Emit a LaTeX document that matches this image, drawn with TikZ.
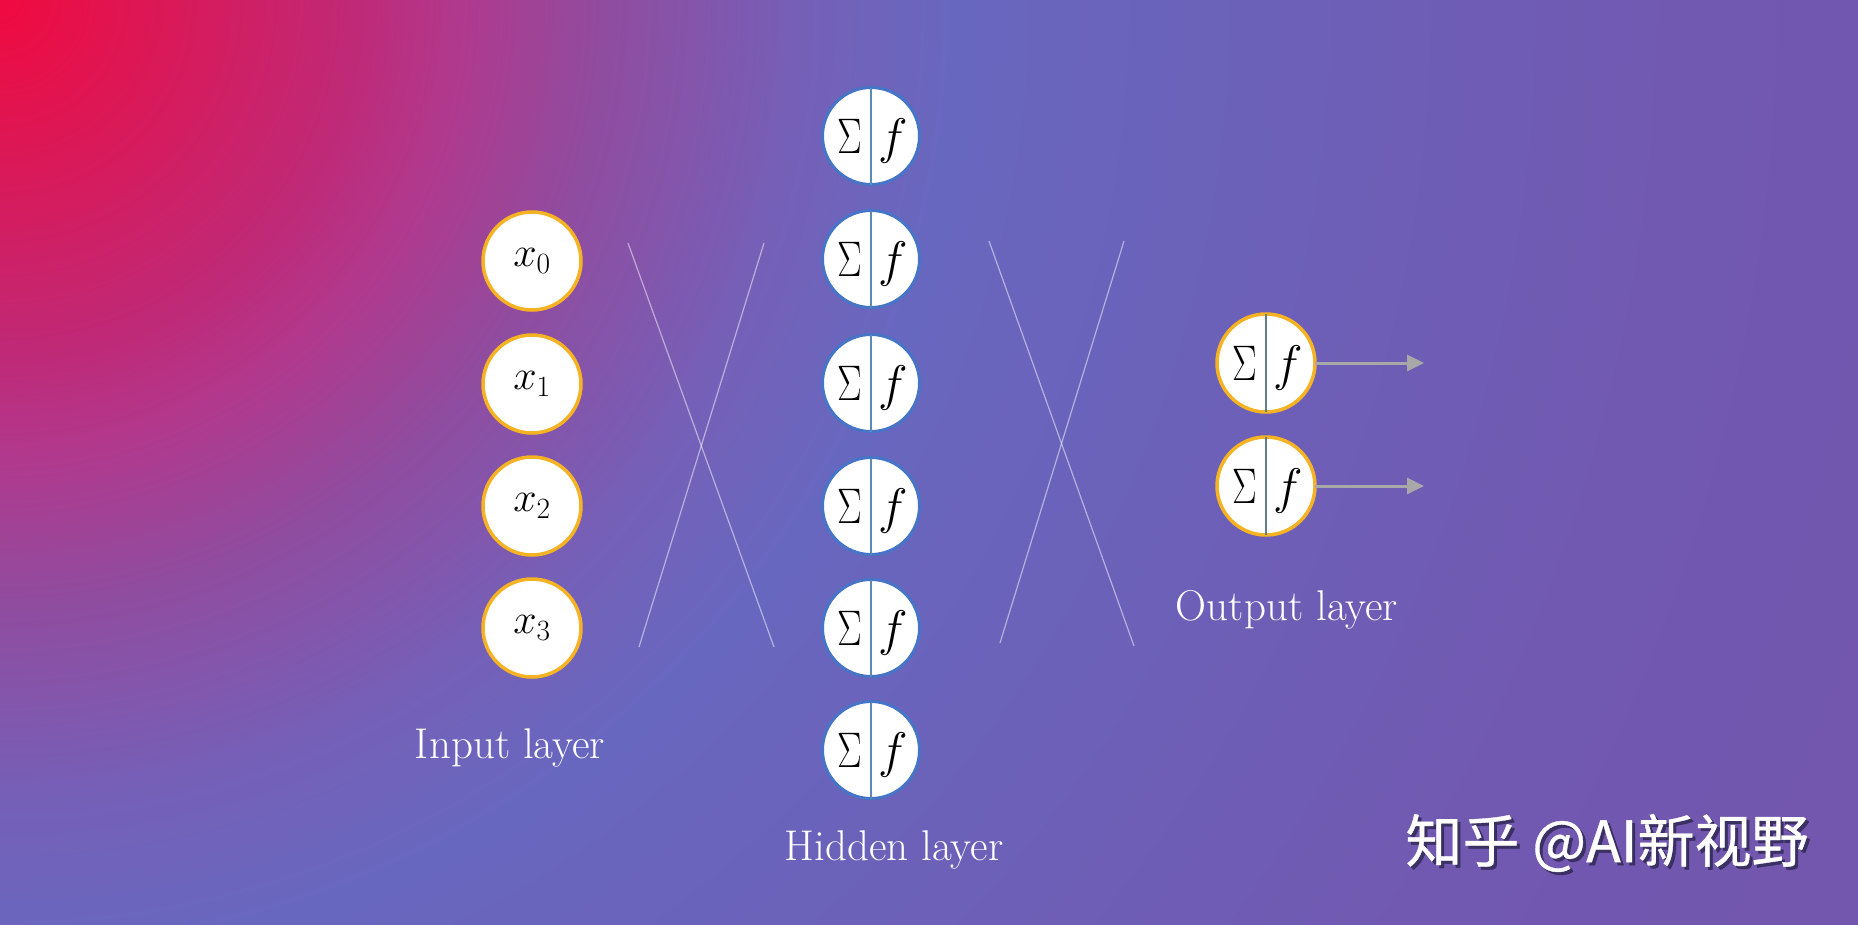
\RequirePackage{fix-cm}
\documentclass[tikz,border=0pt]{standalone}
\usepackage{fontspec}
\usepackage{graphicx}
\newfontfamily\cjk[FakeBold=0.6]{Noto Sans CJK SC}
\usetikzlibrary{arrows.meta}
\definecolor{bga}{HTML}{F00A3F}
\definecolor{bgb}{HTML}{D81A5A}
\definecolor{bgc}{HTML}{BE2A78}
\definecolor{bgd}{HTML}{B2388C}
\definecolor{bge}{HTML}{904C9F}
\definecolor{bgf}{HTML}{7560B8}
\definecolor{bgg}{HTML}{6867BF}
\definecolor{bgh}{HTML}{6B62BA}
\definecolor{bgi}{HTML}{6F5CB4}
\definecolor{bgj}{HTML}{7257B0}
\definecolor{bgk}{HTML}{7357AE}
\definecolor{goldc}{HTML}{F5B223}
\definecolor{bluec}{HTML}{4675C8}
\definecolor{divc}{HTML}{5A8AB5}
\definecolor{divo}{HTML}{5F7F8A}
\definecolor{arrowc}{HTML}{A8A8A8}
\definecolor{shadowc}{HTML}{2E2750}
\pgfdeclareradialshading{bgshade}{\pgfpoint{0bp}{0bp}}{color(0bp)=(bga); color(180bp)=(bgb); color(360bp)=(bgc); color(450bp)=(bgd); color(600bp)=(bge); color(800bp)=(bgf); color(950bp)=(bgg); color(1200bp)=(bgh); color(1500bp)=(bgi); color(1800bp)=(bgj); color(2100bp)=(bgk)}
\newcommand{\nsig}{\scalebox{0.74}[1]{$\Sigma$}}
\begin{document}
\begin{tikzpicture}[x=1pt,y=-1pt,
  innode/.style={circle, fill=white, draw=goldc, line width=3.5pt, minimum size=98pt, inner sep=0pt, outer sep=0pt, font=\fontsize{42}{42}\selectfont},
  hidnode/.style={circle, fill=white, draw=bluec, line width=3pt, minimum size=97pt, inner sep=0pt, outer sep=0pt},
  outnode/.style={innode},
  hdiv/.style={line width=1.2pt, draw=divc},
  odiv/.style={line width=1.2pt, draw=divo},
  sym/.style={inner sep=0pt, anchor=base, font=\fontsize{50}{50}\selectfont},
  lab/.style={text=white, font=\fontsize{43}{45}\selectfont, inner sep=0pt},
  xline/.style={draw=white, draw opacity=0.5, line width=1.2pt},
  outarrow/.style={draw=arrowc, line width=3pt, -{Triangle[length=17pt,width=16pt]}},
  wmark/.style={inner sep=0pt, font=\cjk\fontsize{57}{57}\selectfont}
]
\useasboundingbox (0,0) rectangle (1858,924);
\begin{scope}
  \clip (0,0) rectangle (1858,924);
  \pgfuseshading{bgshade}
\end{scope}

% crossing lines
\coordinate (l1a) at (628,243); \coordinate (l1b) at (774,647);
\coordinate (l2a) at (764,243); \coordinate (l2b) at (639,647);
\coordinate (l3a) at (989,241); \coordinate (l3b) at (1134,646);
\coordinate (l4a) at (1124,241); \coordinate (l4b) at (1000,643);
\draw[xline] (l1a) -- (l1b);
\draw[xline] (l2a) -- (l2b);
\draw[xline] (l3a) -- (l3b);
\draw[xline] (l4a) -- (l4b);

% input layer
\node[innode] (i0) at (532,261) {$x_0$};
\node[innode] (i1) at (532,384) {$x_1$};
\node[innode] (i2) at (532,506) {$x_2$};
\node[innode] (i3) at (532,628) {$x_3$};

% hidden layer
\foreach \k/\yy in {1/136,2/259,3/383,4/506,5/628,6/750}{
  \node[hidnode] (h\k) at (871,\yy) {};
  \draw[hdiv] (h\k.north) -- (h\k.south);
  \node[sym] (hs\k) at (850,\yy+17) {\nsig};
  \node[sym] (hf\k) at (893,\yy+17) {$f$};
}

% output layer
\foreach \k/\yy in {1/363,2/486}{
  \node[outnode] (o\k) at (1266,\yy) {};
  \draw[odiv] (o\k.north) -- (o\k.south);
  \node[sym] (os\k) at (1245,\yy+17) {\nsig};
  \node[sym] (of\k) at (1288,\yy+17) {$f$};
  \coordinate (a\k) at (1424,\yy);
  \draw[outarrow] (o\k.east) -- (a\k);
}

% labels
\node[lab] (inlab) at (510,748) {Input layer};
\node[lab] (hidlab) at (894,850) {Hidden layer};
\node[lab] (outlab) at (1287,610) {Output layer};

% watermark
\node[wmark, text=shadowc, opacity=0.8] (wms) at (1610,846) {知乎 @AI新视野};
\node[wmark, text=white] (wm) at (1607,843) {知乎 @AI新视野};
\end{tikzpicture}
\end{document}
